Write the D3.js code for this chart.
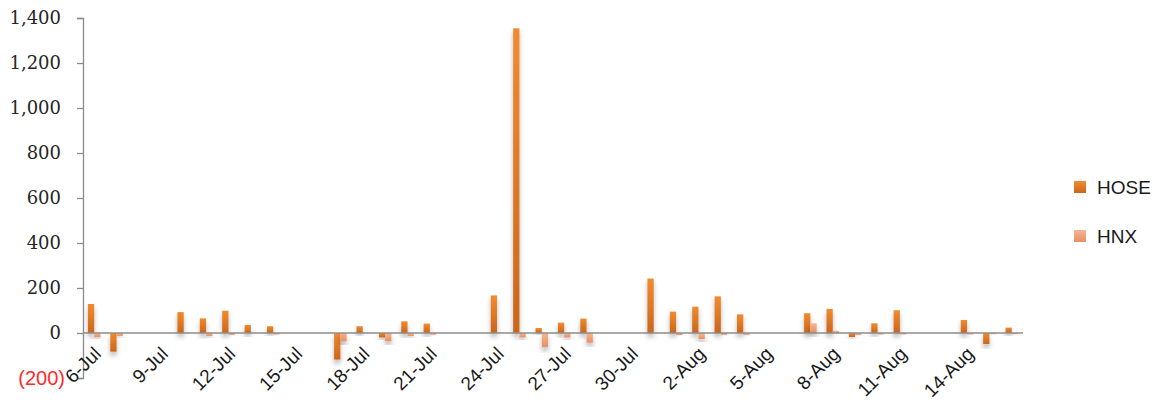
<!DOCTYPE html>
<html>
<head>
<meta charset="utf-8">
<script src="https://cdn.jsdelivr.net/npm/d3@7"></script>
<style>
  body { margin: 0; background: #fff; }
  svg { display: block; }
</style>
</head>
<body>
<div id="chart"></div>
<script>
// Trading days (2017) and net values per exchange
var days = [
    '2017-07-06', '2017-07-07',
    '2017-07-10', '2017-07-11', '2017-07-12', '2017-07-13', '2017-07-14',
    '2017-07-17', '2017-07-18', '2017-07-19', '2017-07-20', '2017-07-21',
    '2017-07-24', '2017-07-25', '2017-07-26', '2017-07-27', '2017-07-28',
    '2017-07-31', '2017-08-01', '2017-08-02', '2017-08-03', '2017-08-04',
    '2017-08-07', '2017-08-08', '2017-08-09', '2017-08-10', '2017-08-11',
    '2017-08-14', '2017-08-15', '2017-08-16'
];
var hose = [
    129, -83,
    93, 65, 99, 36, 30,
    -118, 30, -20, 52, 42,
    167, 1354, 22, 46, 64,
    242, 95, 117, 163, 83,
    88, 107, -18, 43, 101,
    58, -49, 24
];
var hnx = [
    -19, -13,
    2, -14, -8, 1, -6,
    -37, 2, -37, -14, -7,
    2, -20, -62, -20, -43,
    2, -9, -27, -8, -8,
    43, 10, -8, -6, -6,
    -6, -5, -5
];
var seriesNames = ['HOSE', 'HNX'];
var yTicks = [-200, 0, 200, 400, 600, 800, 1000, 1200, 1400];

var parse = d3.timeParse('%Y-%m-%d');
var fmtDay = d3.timeFormat('%-d-%b');

var data = days.map(function (d, i) {
    return { date: parse(d), HOSE: hose[i], HNX: hnx[i] };
});

// every calendar day gets a slot, like an Excel date axis
var allDays = d3.timeDay.range(parse('2017-07-06'), d3.timeDay.offset(parse('2017-08-16'), 1));
var labelDays = allDays.filter(function (d, i) { return i % 3 === 0; });

var W = 1156, H = 416;
var plot = { left: 83, right: 1023, top: 18, bottom: 378 };

var svg = d3.select('#chart').append('svg')
    .attr('width', W)
    .attr('height', H);

var defs = svg.append('defs');

function gradient(id, c1, c2) {
    var g = defs.append('linearGradient')
        .attr('id', id)
        .attr('x1', 0).attr('y1', 0).attr('x2', 0).attr('y2', 1);
    g.append('stop').attr('offset', '0%').attr('stop-color', c1);
    g.append('stop').attr('offset', '100%').attr('stop-color', c2);
}
gradient('g-hose', '#f28b2f', '#c9661d');
gradient('g-hnx', '#f8b690', '#e58f66');

var shadow = defs.append('filter')
    .attr('id', 'shadow')
    .attr('x', '-100%').attr('y', '-20%')
    .attr('width', '300%').attr('height', '160%');
shadow.append('feDropShadow')
    .attr('dx', 0).attr('dy', 4)
    .attr('stdDeviation', 2.5)
    .attr('flood-color', '#000')
    .attr('flood-opacity', 0.28);

var colors = { HOSE: 'url(#g-hose)', HNX: 'url(#g-hnx)' };

// Scales
var x = d3.scaleBand()
    .domain(allDays.map(function (d) { return +d; }))
    .range([plot.left, plot.right])
    .padding(0);

var xInner = d3.scaleBand()
    .domain(seriesNames)
    .range([0, x.bandwidth()])
    .paddingInner(0)
    .paddingOuter(0.78);

var y = d3.scaleLinear()
    .domain([-200, 1400])
    .range([plot.bottom, plot.top]);

// Y axis
var yAxis = svg.append('g')
    .attr('transform', 'translate(' + plot.left + ',0)')
    .call(d3.axisLeft(y).tickValues(yTicks).tickSize(6).tickPadding(16)
        .tickFormat(function (d) {
            return d < 0 ? '(' + d3.format(',')(-d) + ')' : d3.format(',')(d);
        }));
yAxis.attr('font-family', '"DejaVu Serif", "Liberation Serif", serif').attr('font-size', 18);
yAxis.select('.domain').attr('stroke', '#8c8c8c').attr('stroke-width', 1.3);
yAxis.selectAll('.tick line').attr('stroke', '#8c8c8c').attr('stroke-width', 1.3);
yAxis.selectAll('.tick text').attr('fill', '#262626');
yAxis.selectAll('.tick')
    .filter(function (d) { return d < 0; })
    .select('text')
    .attr('font-family', '"Liberation Sans", sans-serif')
    .attr('font-size', 20)
    .attr('fill', '#ff2b2b')
    .attr('dx', 4);

// Bars
var groups = svg.append('g')
    .selectAll('g')
    .data(data)
    .enter()
    .append('g')
    .attr('transform', function (d) { return 'translate(' + x(+d.date) + ',0)'; });

groups.selectAll('rect')
    .data(function (d) {
        return seriesNames.map(function (k) { return { key: k, value: d[k] }; });
    })
    .enter()
    .append('rect')
    .attr('x', function (d) { return xInner(d.key); })
    .attr('y', function (d) { return y(Math.max(0, d.value)); })
    .attr('width', xInner.bandwidth())
    .attr('height', function (d) { return Math.abs(y(d.value) - y(0)); })
    .attr('fill', function (d) { return colors[d.key]; })
    .attr('filter', 'url(#shadow)');

// Zero line (horizontal axis)
svg.append('line')
    .attr('x1', plot.left).attr('x2', plot.right)
    .attr('y1', y(0)).attr('y2', y(0))
    .attr('stroke', '#8c8c8c')
    .attr('stroke-width', 1.3);

// Date labels at -45deg, laid on short diagonal paths ending under each slot
var c45 = Math.SQRT1_2;
function labelEnd(d) {
    return [x(+d) + x.bandwidth() / 2 + 8, y(0) + 22];
}
defs.selectAll('path.lp')
    .data(labelDays)
    .enter()
    .append('path')
    .attr('class', 'lp')
    .attr('id', function (d, i) { return 'lp' + i; })
    .attr('d', function (d) {
        var e = labelEnd(d);
        var len = 120;
        return 'M' + (e[0] - len * c45) + ',' + (e[1] + len * c45) + 'L' + e[0] + ',' + e[1];
    });

svg.append('g')
    .selectAll('text')
    .data(labelDays)
    .enter()
    .append('text')
    .attr('font-family', '"Liberation Sans", sans-serif')
    .attr('font-size', 19)
    .attr('fill', '#1a1a1a')
    .append('textPath')
    .attr('href', function (d, i) { return '#lp' + i; })
    .attr('startOffset', '100%')
    .attr('text-anchor', 'end')
    .text(function (d) { return fmtDay(d); });

// Legend
var legend = svg.append('g')
    .selectAll('g')
    .data(seriesNames)
    .enter()
    .append('g')
    .attr('transform', function (d, i) { return 'translate(1074,' + (181 + i * 49) + ')'; });

legend.append('rect')
    .attr('width', 12)
    .attr('height', 12)
    .attr('fill', function (d) { return colors[d]; });

legend.append('text')
    .attr('x', 23)
    .attr('y', 13)
    .attr('font-family', '"Liberation Sans", sans-serif')
    .attr('font-size', 19)
    .attr('fill', '#1a1a1a')
    .text(function (d) { return d; });
</script>
</body>
</html>
